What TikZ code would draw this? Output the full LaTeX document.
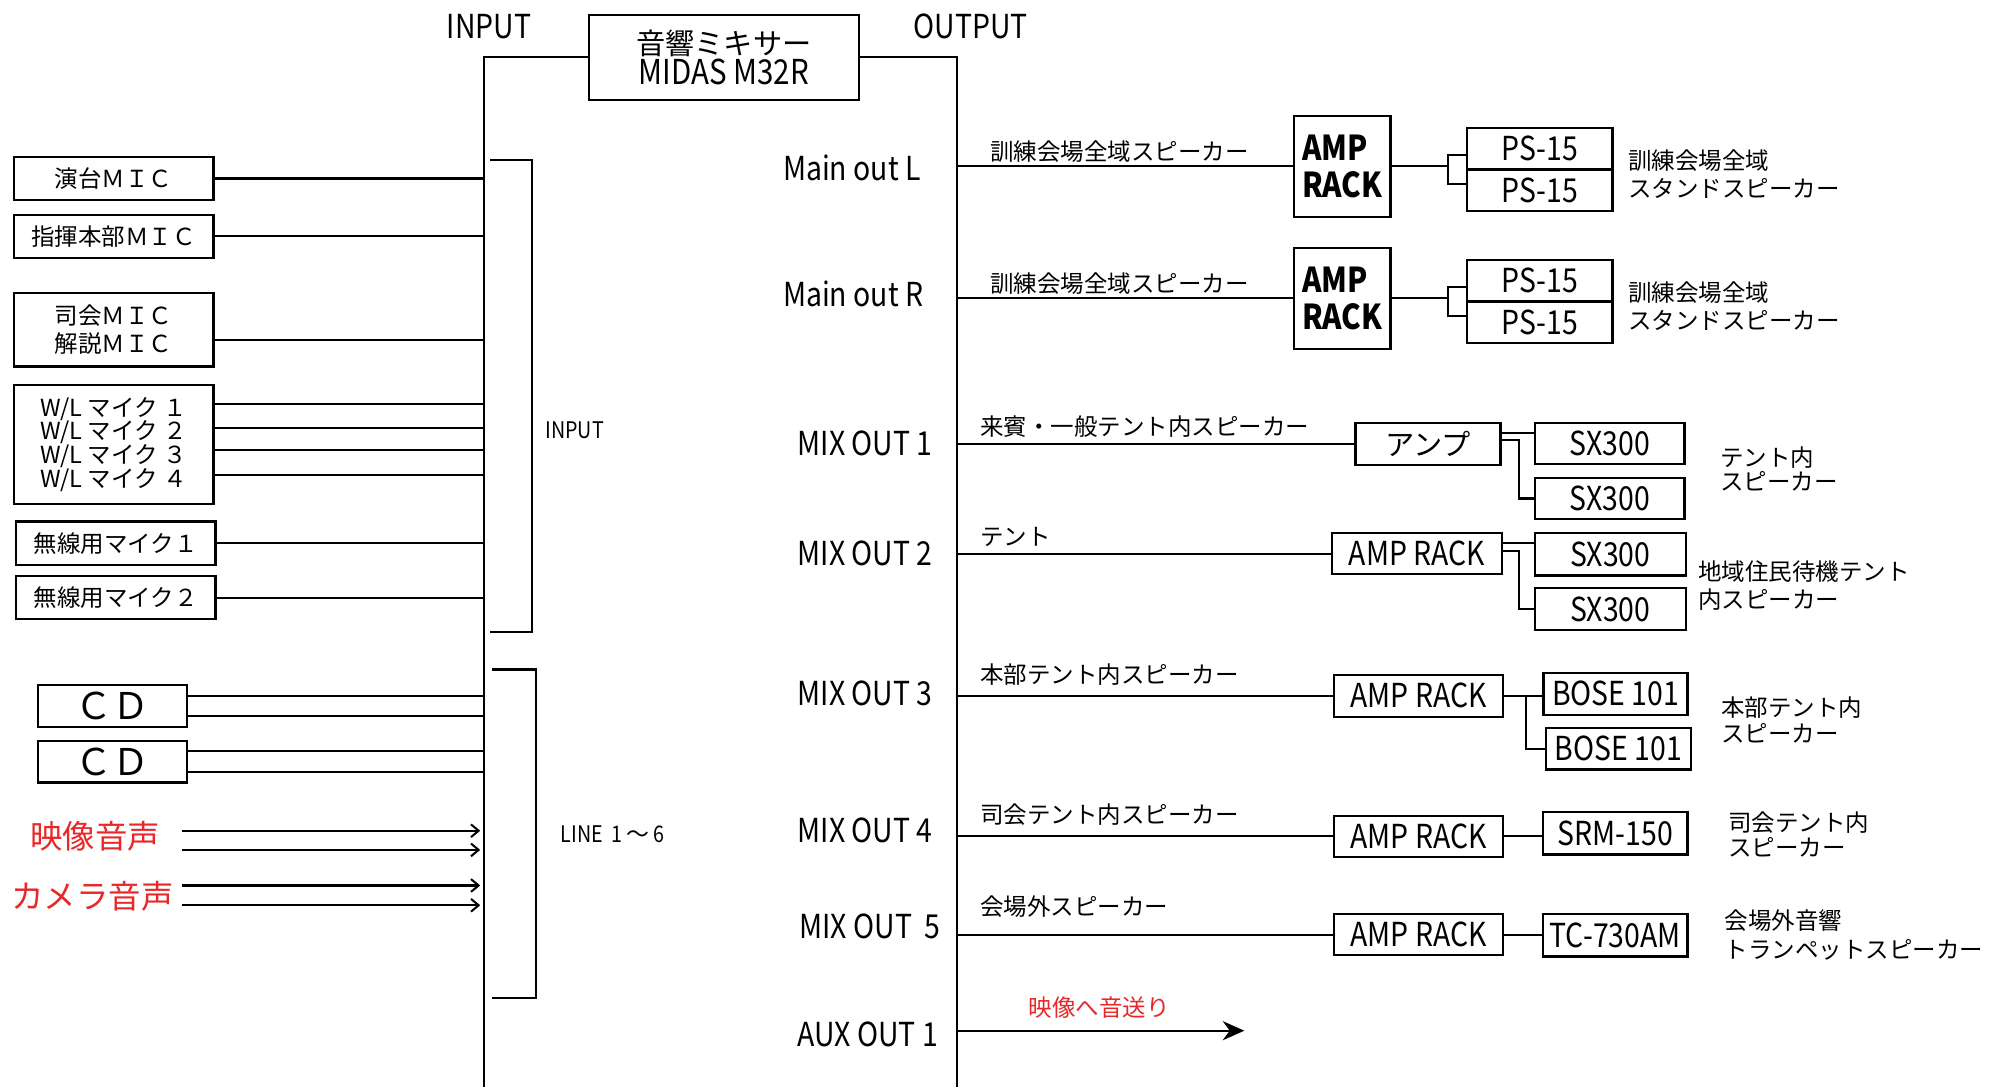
\documentclass[tikz,border=0pt]{standalone}
\usepackage{fontspec}
\setmainfont{Noto Sans CJK JP}
\newfontfamily\cond[FakeStretch=0.86]{Noto Sans CJK JP}
\usetikzlibrary{arrows.meta,calc}
\definecolor{labred}{RGB}{232,40,40}
\newcommand\szJ{\fontsize{9.25pt}{10.5pt}\selectfont}
\newcommand\szL{\cond\fontsize{13pt}{14pt}\selectfont}
\newcommand\szS{\cond\fontsize{9pt}{10pt}\selectfont}
\newcommand\szB{\fontsize{12.75pt}{14pt}\selectfont}
\begin{document}
\begin{tikzpicture}[x=0.5pt,y=-0.5pt,
  box/.style={draw, line width=0.9pt, inner sep=0pt, align=center},
  lbl/.style={inner sep=0pt},
  conn/.style={line width=0.8pt},
  spk/.style={inner sep=0pt, anchor=west, align=left},
  barb/.style={conn,-{Straight Barb[length=3pt,width=5pt,line width=0.8pt]}}]
\path[fill=white,use as bounding box] (0,0) rectangle (1568,856);

% ---------- mixer and buses ----------
\node[box, minimum width=106.25pt, minimum height=33.5pt, font=\fontsize{11.5pt}{11pt}\selectfont] (mixer) at (569.8,45.2) {音響ミキサー\\{\cond\fontsize{13.5pt}{11pt}\selectfont MIDAS M32R}};
\node[lbl, font=\szL] (hin) at (385,21) {INPUT};
\node[lbl, font=\szL] (hout) at (764,21) {OUTPUT};
\coordinate (ibusbot) at (381,856);
\coordinate (obusbot) at (753,856);
\draw[conn] (mixer.west) -| (ibusbot);
\draw[conn] (mixer.east) -| (obusbot);

% ---------- input sources ----------
\node[box, minimum width=78.5pt, minimum height=17pt, font=\szJ] (mic1) at (89.5,140.5) {演台ＭＩＣ};
\node[box, minimum width=78.5pt, minimum height=17pt, font=\szJ] (mic2) at (89.5,186) {指揮本部ＭＩＣ};
\node[box, minimum width=78.5pt, minimum height=29.1pt, font=\fontsize{9.25pt}{11.2pt}\selectfont] (mic3) at (89.5,259.5) {司会ＭＩＣ\\解説ＭＩＣ};
\node[box, minimum width=78.5pt, minimum height=46.85pt, font=\fontsize{9.25pt}{9.33pt}\selectfont] (wl) at (89.5,349.85) {W/L マイク １\\W/L マイク ２\\W/L マイク ３\\W/L マイク ４};
\node[box, minimum width=78.55pt, minimum height=17.1pt, font=\szJ] (mu1) at (91.15,427.7) {無線用マイク１};
\node[box, minimum width=78.55pt, minimum height=17pt, font=\szJ] (mu2) at (91.15,470.45) {無線用マイク２};
\node[box, minimum width=58.5pt, minimum height=16.5pt, font=\fontsize{14.5pt}{14pt}\selectfont] (cd1) at (88.5,555.5) {ＣＤ};
\node[box, minimum width=58.5pt, minimum height=16.5pt, font=\fontsize{14.5pt}{14pt}\selectfont] (cd2) at (88.5,599.5) {ＣＤ};
\node[lbl, text=labred, font=\szB] (vid) at (75,658.6) {映像音声};
\node[lbl, text=labred, font=\szB] (cam) at (72.8,705.8) {カメラ音声};

\draw[conn] (mic1.east) -- (mic1.east -| ibusbot);
\draw[conn] (mic2.east) -- (mic2.east -| ibusbot);
\path (mic3.east) ++(0,8.5) coordinate (m3);
\draw[conn] (m3) -- (m3 -| ibusbot);
\path (wl.east) ++(0,-32) coordinate (w1);
\path (wl.east) ++(0,-13) coordinate (w2);
\path (wl.east) ++(0,4) coordinate (w3);
\path (wl.east) ++(0,24) coordinate (w4);
\foreach \c in {w1,w2,w3,w4} \draw[conn] (\c) -- (\c -| ibusbot);
\draw[conn] (mu1.east) -- (mu1.east -| ibusbot);
\draw[conn] (mu2.east) -- (mu2.east -| ibusbot);
\path (cd1.east) ++(0,-7.9) coordinate (c1a);
\path (cd1.east) ++(0,7.9) coordinate (c1b);
\path (cd2.east) ++(0,-8) coordinate (c2a);
\path (cd2.east) ++(0,8) coordinate (c2b);
\foreach \c in {c1a,c1b,c2a,c2b} \draw[conn] (\c) -- (\c -| ibusbot);
\coordinate (arrx) at (378,0);
\coordinate (va) at (143,653.9);
\coordinate (vb) at (143,669);
\coordinate (ka) at (143,697);
\coordinate (kb) at (143,712.6);
\foreach \c in {va,vb,ka,kb} \draw[barb] (\c) -- (\c -| arrx);

% brackets
\draw[conn] (386,126) -- (419,126) -- (419,497.7) -- (386,497.7);
\node[lbl, anchor=west, font=\szS] (brin) at (429,338.5) {INPUT};
\draw[conn] (387.5,527) -- (421.7,527) -- (421.7,785.3) -- (387.5,785.3);
\node[lbl, anchor=west, font=\fontsize{9pt}{10pt}\selectfont] (brline) at (441,656.5) {{\cond LINE\ \ 1}\,～\,{\cond 6}};

% ---------- outputs ----------
% Main out L
\node[lbl, anchor=west, font=\szL] (oL) at (616,132.5) {Main out L};
\node[lbl, anchor=west, font=\szJ] (capL) at (779,119.4) {訓練会場全域スピーカー};
\node[box, minimum width=38.15pt, minimum height=39.65pt, align=left, font=\cond\bfseries\fontsize{13.5pt}{14.4pt}\selectfont] (ampL) at (1056.45,131) {AMP\\RACK};
\node[box, minimum width=57.25pt, minimum height=16.3pt, font=\szL] (psLa) at (1212,117.2) {PS-15};
\node[box, minimum width=57.25pt, minimum height=16.3pt, font=\szL] (psLb) at (1212,149.8) {PS-15};
\node[spk, font=\fontsize{9.25pt}{11pt}\selectfont] (spkL) at (1281.4,137) {訓練会場全域\\スタンドスピーカー};
\draw[conn] (obusbot |- ampL.west) -- (ampL.west);
\draw[conn] (ampL.east) -- ++(44.4,0) coordinate (jL);
\path (psLa.west) ++(0,4.8) coordinate (pLa);
\path (psLb.west) ++(0,-4.8) coordinate (pLb);
\draw[conn] (pLa) -| (jL) |- (pLb);

% Main out R
\node[lbl, anchor=west, font=\szL] (oR) at (616,231) {Main out R};
\node[lbl, anchor=west, font=\szJ] (capR) at (779,223) {訓練会場全域スピーカー};
\node[box, minimum width=38.15pt, minimum height=39.85pt, align=left, font=\cond\bfseries\fontsize{13.5pt}{14.4pt}\selectfont] (ampR) at (1056.45,234.85) {AMP\\RACK};
\node[box, minimum width=57.25pt, minimum height=16.3pt, font=\szL] (psRa) at (1212,221.1) {PS-15};
\node[box, minimum width=57.25pt, minimum height=16.3pt, font=\szL] (psRb) at (1212,253.5) {PS-15};
\node[spk, font=\fontsize{9.25pt}{11pt}\selectfont] (spkR) at (1281.4,240.8) {訓練会場全域\\スタンドスピーカー};
\draw[conn] (obusbot |- ampR.west) -- (ampR.west);
\draw[conn] (ampR.east) -- ++(44.4,0) coordinate (jR);
\path (psRa.west) ++(0,4.8) coordinate (pRa);
\path (psRb.west) ++(0,-4.8) coordinate (pRb);
\draw[conn] (pRa) -| (jR) |- (pRb);

% MIX OUT 1
\node[lbl, anchor=west, font=\szL] (o1) at (627.5,349) {MIX OUT 1};
\node[lbl, anchor=west, font=\szJ] (cap1) at (771,335.8) {来賓・一般テント内スピーカー};
\node[box, minimum width=57pt, minimum height=16.65pt, font=\fontsize{11.5pt}{12pt}\selectfont] (amp1) at (1124,349.35) {アンプ};
\node[box, minimum width=59pt, minimum height=16.4pt, font=\szL] (sx1a) at (1267,349.1) {SX300};
\node[box, minimum width=59pt, minimum height=16.4pt, font=\szL] (sx1b) at (1267,392.4) {SX300};
\node[spk, font=\fontsize{9.25pt}{9.5pt}\selectfont] (spk1) at (1353.5,369) {テント内\\スピーカー};
\draw[conn] (obusbot |- amp1.west) -- (amp1.west);
\path (amp1.east) ++(0,-8.5) coordinate (a1t);
\path (amp1.east) ++(0,-3) coordinate (a1b);
\draw[conn] (a1t) -- (a1t -| sx1a.west);
\draw[conn] (a1b) -- ++(14,0) |- (sx1b.west);

% MIX OUT 2
\node[lbl, anchor=west, font=\szL] (o2) at (627.5,435.6) {MIX OUT 2};
\node[lbl, anchor=west, font=\szJ] (cap2) at (771,422.4) {テント};
\node[box, minimum width=66.75pt, minimum height=16pt, font=\szL] (amp2) at (1115.25,435.8) {AMP RACK};
\node[box, minimum width=59.5pt, minimum height=16.6pt, font=\szL] (sx2a) at (1267.5,436.4) {SX300};
\node[box, minimum width=59.5pt, minimum height=16.5pt, font=\szL] (sx2b) at (1267.5,479.5) {SX300};
\node[spk, font=\fontsize{9.25pt}{11pt}\selectfont] (spk2) at (1336.3,461) {地域住民待機テント\\内スピーカー};
\draw[conn] (obusbot |- amp2.west) -- (amp2.west);
\path (amp2.east) ++(0,-8.1) coordinate (a2t);
\path (amp2.east) ++(0,-2.3) coordinate (a2b);
\draw[conn] (a2t) -- (a2t -| sx2a.west);
\draw[conn] (a2b) -- ++(13,0) |- (sx2b.west);

% MIX OUT 3
\node[lbl, anchor=west, font=\szL] (o3) at (627.5,545.8) {MIX OUT 3};
\node[lbl, anchor=west, font=\szJ] (cap3) at (771,531.3) {本部テント内スピーカー};
\node[box, minimum width=66.5pt, minimum height=16.4pt, font=\szL] (amp3) at (1116.5,547.7) {AMP RACK};
\node[box, minimum width=56.7pt, minimum height=16.65pt, font=\szL] (bose1) at (1271.7,546.15) {BOSE 101};
\node[box, minimum width=57pt, minimum height=16.15pt, font=\szL] (bose2) at (1274,589.45) {BOSE 101};
\node[spk, font=\fontsize{9.25pt}{10.5pt}\selectfont] (spk3) at (1354.6,566.7) {本部テント内\\スピーカー};
\draw[conn] (obusbot |- amp3.west) -- (amp3.west);
\draw[conn] (amp3.east) -- (amp3.east -| bose1.west);
\path (amp3.east) ++(17.3,0) coordinate (j3);
\draw[conn] (j3) |- (bose2.west);

% MIX OUT 4
\node[lbl, anchor=west, font=\szL] (o4) at (627.5,653.4) {MIX OUT 4};
\node[lbl, anchor=west, font=\szJ] (cap4) at (771,641.5) {司会テント内スピーカー};
\node[box, minimum width=66.5pt, minimum height=16pt, font=\szL] (amp4) at (1116.5,658.3) {AMP RACK};
\node[box, minimum width=57pt, minimum height=16.75pt, font=\szL] (srm) at (1271.4,655.75) {SRM-150};
\node[spk, font=\fontsize{9.25pt}{10pt}\selectfont] (spk4) at (1359.8,657) {司会テント内\\スピーカー};
\draw[conn] (obusbot |- amp4.west) -- (amp4.west);
\draw[conn] (amp4.east) -- (amp4.east -| srm.west);

% MIX OUT 5
\node[lbl, anchor=west, font=\szL] (o5) at (629,729.4) {MIX OUT\ \ 5};
\node[lbl, anchor=west, font=\szJ] (cap5) at (771,713.7) {会場外スピーカー};
\node[box, minimum width=66.5pt, minimum height=16.1pt, font=\szL] (amp5) at (1116.5,735.6) {AMP RACK};
\node[box, minimum width=57pt, minimum height=16.75pt, font=\szL] (tc) at (1271.4,736.25) {TC-730AM};
\node[spk, font=\fontsize{9.25pt}{11.5pt}\selectfont] (spk5) at (1357.2,735.7) {会場外音響\\トランペットスピーカー};
\draw[conn] (obusbot |- amp5.west) -- (amp5.west);
\draw[conn] (amp5.east) -- (amp5.east -| tc.west);

% AUX OUT 1
\node[lbl, anchor=west, font=\szL] (oa) at (627.5,814) {AUX OUT 1};
\node[lbl, anchor=west, text=labred, font=\szJ] (capa) at (809.5,793) {映像へ音送り};
\coordinate (auxend) at (979.5,811.3);
\draw[conn,-{Stealth[length=8.5pt,width=7.5pt]}] (obusbot |- auxend) -- (auxend);
\end{tikzpicture}
\end{document}
